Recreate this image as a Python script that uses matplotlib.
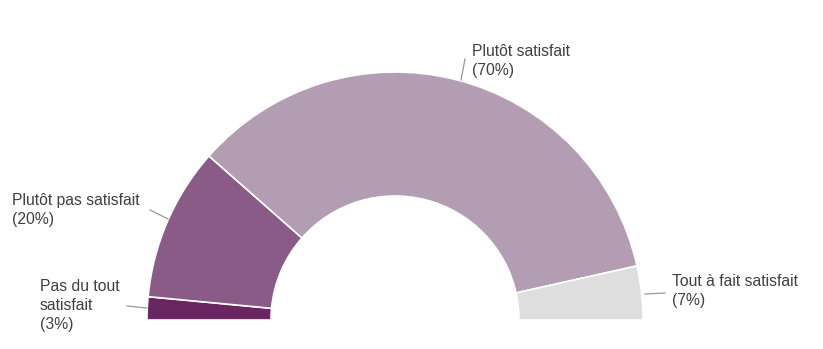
import matplotlib.pyplot as plt

plt.rcParams['font.family'] = ['Liberation Sans', 'DejaVu Sans']

# satisfaction survey, share of answers in %
labels = ['Pas du tout\nsatisfait', 'Plutôt pas satisfait', 'Plutôt satisfait', 'Tout à fait satisfait']
values = [3, 20, 70, 7]
colors = ['#6a2661', '#8b5b87', '#b39db3', '#dedede']

fig = plt.figure(figsize=(8.23, 3.49), dpi=100)
ax = fig.add_axes([0, 0, 1, 1])

# half donut: pad with an invisible wedge the size of the total
total = sum(values)
wedges, _ = ax.pie(values + [total], colors=colors + ['none'], startangle=180,
                   counterclock=False, center=(395, 29), radius=248,
                   wedgeprops=dict(width=124, edgecolor='white', linewidth=1.2))
wedges[-1].set_edgecolor('none')

ax.set_xlim(0, 823)
ax.set_ylim(0, 349)
ax.set_aspect('equal')
ax.axis('off')

# label text positions and leader line end points
txt_pos = [(40, 70), (12, 156), (472, 305), (672, 75)]
line_pts = [((127, 43), (147, 41)), ((150, 139), (168, 130)),
            ((465, 290), (461, 269)), ((645, 55), (665, 56))]

for lab, v, (tx, ty), (p0, p1) in zip(labels, values, txt_pos, line_pts):
    ax.text(tx, ty, f'{lab}\n({v}%)', fontsize=11.3, color='#404040',
            va='top', ha='left', linespacing=1.32)
    ax.plot([p0[0], p1[0]], [p0[1], p1[1]], color='#999999', lw=0.9)

fig.savefig('out.png', dpi=100)
